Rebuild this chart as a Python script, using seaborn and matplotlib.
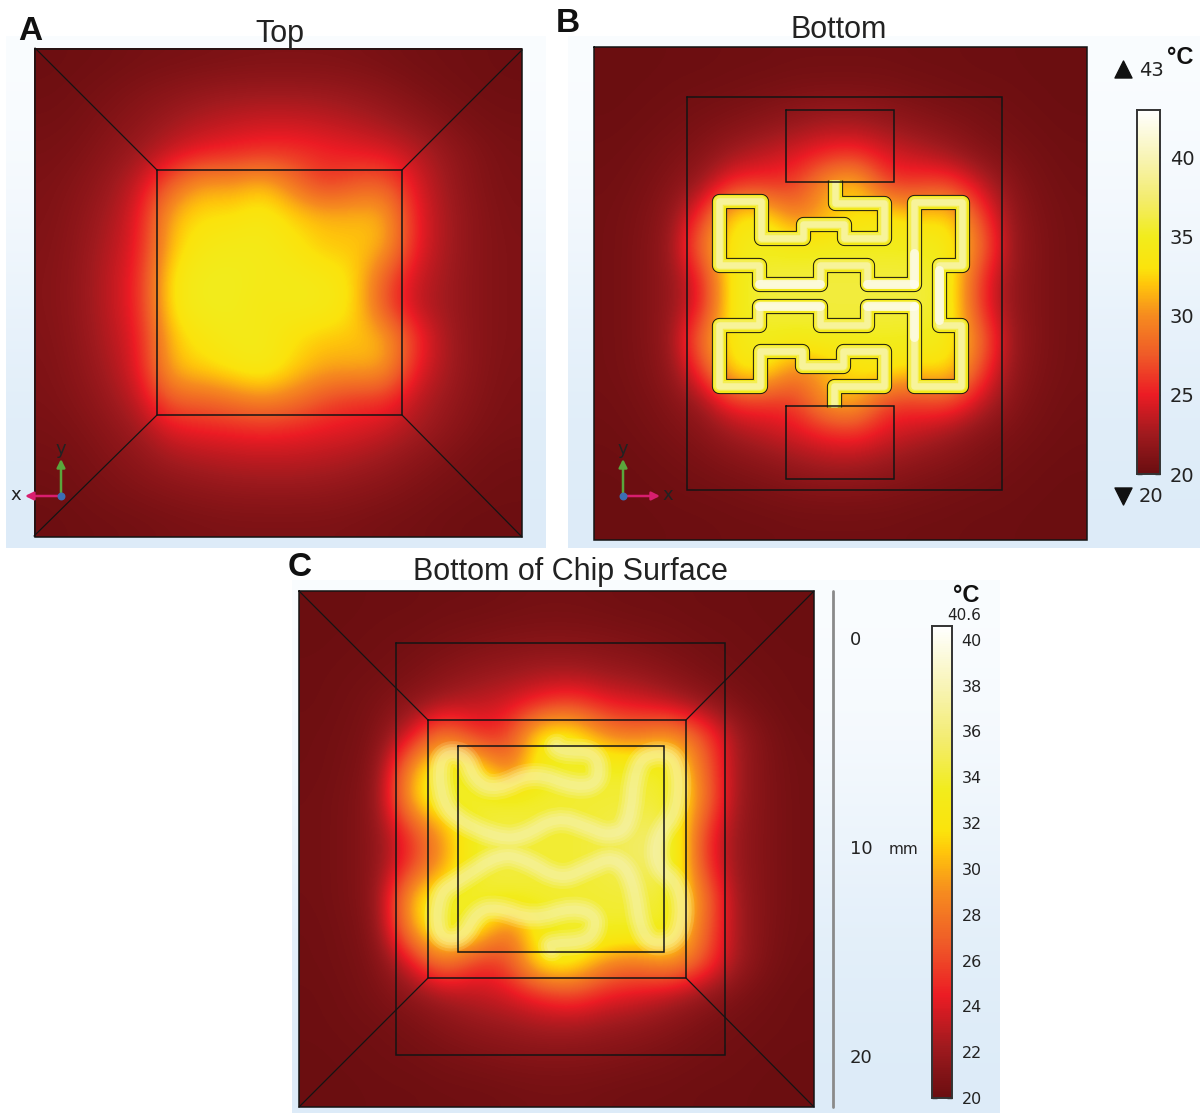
import numpy as np
import matplotlib
matplotlib.use("Agg")
import matplotlib.pyplot as plt
import seaborn as sns
from matplotlib.colors import LinearSegmentedColormap
from matplotlib.path import Path
from matplotlib.patches import PathPatch

# === Temperature readings (deg C), top row first ===
top_temps = [
    [20.2, 20.3, 20.4, 20.6, 20.7, 20.8, 20.9, 21.0, 21.0, 21.0, 20.9, 20.7, 20.5, 20.4, 20.3, 20.2],
    [20.3, 20.5, 20.8, 21.2, 21.6, 22.0, 22.3, 22.4, 22.4, 22.3, 22.0, 21.6, 21.0, 20.6, 20.4, 20.3],
    [20.5, 20.7, 21.2, 21.8, 22.6, 23.3, 23.7, 24.0, 24.0, 23.7, 23.3, 22.7, 22.0, 21.2, 20.7, 20.5],
    [20.7, 21.0, 21.7, 22.6, 24.0, 25.0, 25.5, 26.0, 26.0, 25.5, 25.0, 24.6, 23.5, 22.2, 21.2, 20.7],
    [20.9, 21.4, 22.3, 24.0, 28.0, 31.0, 30.5, 32.0, 29.0, 26.0, 27.5, 28.0, 24.5, 22.5, 21.3, 20.8],
    [21.0, 21.7, 22.8, 24.8, 31.5, 33.0, 33.0, 34.0, 32.5, 31.5, 31.5, 31.5, 25.0, 22.8, 21.5, 20.9],
    [21.1, 21.9, 23.2, 25.0, 32.0, 34.0, 34.5, 34.5, 33.5, 32.0, 32.0, 31.5, 25.0, 22.8, 21.5, 21.0],
    [21.2, 22.0, 23.5, 25.5, 33.5, 35.0, 35.0, 34.5, 34.5, 34.0, 33.0, 27.5, 24.0, 22.6, 21.5, 21.0],
    [21.2, 22.0, 23.5, 25.5, 33.5, 35.0, 35.0, 34.0, 34.5, 34.5, 33.0, 27.0, 23.5, 22.5, 21.5, 21.0],
    [21.1, 21.9, 23.2, 25.0, 32.0, 33.5, 34.5, 34.5, 33.0, 32.0, 32.0, 31.5, 26.0, 22.8, 21.5, 21.0],
    [21.0, 21.7, 22.8, 24.8, 31.5, 32.5, 33.5, 34.5, 32.5, 31.0, 31.0, 31.0, 25.0, 22.8, 21.5, 20.9],
    [20.9, 21.4, 22.3, 23.8, 28.0, 28.0, 29.0, 30.0, 29.0, 27.0, 26.0, 26.0, 23.5, 22.3, 21.3, 20.8],
    [20.7, 21.0, 21.7, 22.6, 24.5, 25.0, 25.2, 25.5, 25.2, 24.8, 24.5, 23.8, 22.8, 21.8, 21.0, 20.7],
    [20.5, 20.7, 21.2, 21.8, 22.6, 23.0, 23.3, 23.4, 23.4, 23.2, 22.8, 22.3, 21.6, 21.0, 20.6, 20.4],
    [20.3, 20.5, 20.8, 21.1, 21.4, 21.7, 21.9, 22.0, 22.0, 21.9, 21.6, 21.3, 20.9, 20.6, 20.4, 20.3],
    [20.2, 20.3, 20.4, 20.5, 20.7, 20.8, 20.9, 20.9, 20.9, 20.9, 20.8, 20.6, 20.5, 20.3, 20.2, 20.2],
]

bottom_temps = [
    [20.1, 20.1, 20.2, 20.2, 20.3, 20.3, 20.4, 20.4, 20.4, 20.4, 20.3, 20.3, 20.2, 20.2, 20.1, 20.1],
    [20.1, 20.2, 20.3, 20.4, 20.5, 20.7, 20.9, 21.0, 21.0, 20.9, 20.7, 20.5, 20.4, 20.3, 20.2, 20.1],
    [20.2, 20.3, 20.5, 20.8, 21.2, 21.6, 22.2, 22.8, 22.8, 22.2, 21.6, 21.2, 20.8, 20.5, 20.3, 20.2],
    [20.3, 20.5, 20.9, 21.4, 22.6, 23.6, 24.4, 25.5, 26.0, 24.4, 23.6, 22.6, 21.4, 20.9, 20.5, 20.3],
    [20.4, 20.7, 21.3, 22.5, 26.0, 26.0, 26.0, 31.0, 33.0, 26.0, 26.5, 27.0, 24.0, 21.5, 20.7, 20.4],
    [20.5, 20.9, 21.8, 26.0, 33.5, 34.0, 29.0, 31.0, 33.0, 34.0, 32.0, 33.5, 27.0, 22.0, 20.9, 20.5],
    [20.5, 21.0, 22.0, 29.0, 34.0, 35.0, 34.5, 35.0, 35.0, 35.0, 35.0, 34.5, 29.0, 22.3, 21.0, 20.5],
    [20.5, 21.0, 22.0, 25.0, 34.5, 36.0, 36.0, 36.0, 36.0, 36.0, 36.0, 35.0, 26.0, 22.0, 21.0, 20.5],
    [20.5, 21.0, 22.0, 25.0, 34.5, 36.0, 36.0, 36.0, 36.0, 36.0, 36.0, 35.0, 26.0, 22.0, 21.0, 20.5],
    [20.5, 21.0, 22.0, 29.0, 34.0, 35.0, 34.5, 35.0, 35.0, 35.0, 35.0, 34.5, 29.0, 22.3, 21.0, 20.5],
    [20.5, 20.9, 21.8, 26.0, 33.5, 34.0, 29.0, 31.0, 33.0, 34.0, 32.0, 33.5, 27.0, 22.0, 20.9, 20.5],
    [20.4, 20.7, 21.3, 22.5, 26.0, 26.0, 26.0, 31.0, 32.0, 26.0, 26.5, 27.0, 24.0, 21.5, 20.7, 20.4],
    [20.3, 20.5, 20.9, 21.4, 22.6, 23.6, 24.4, 25.5, 26.0, 24.4, 23.6, 22.6, 21.4, 20.9, 20.5, 20.3],
    [20.2, 20.3, 20.5, 20.8, 21.2, 21.6, 22.2, 22.8, 22.8, 22.2, 21.6, 21.2, 20.8, 20.5, 20.3, 20.2],
    [20.1, 20.2, 20.3, 20.4, 20.5, 20.7, 20.9, 21.0, 21.0, 20.9, 20.7, 20.5, 20.4, 20.3, 20.2, 20.1],
    [20.1, 20.1, 20.2, 20.2, 20.3, 20.3, 20.4, 20.4, 20.4, 20.4, 20.3, 20.3, 20.2, 20.2, 20.1, 20.1],
]

chip_temps = [
    [20.1, 20.1, 20.2, 20.2, 20.3, 20.3, 20.4, 20.5, 20.5, 20.4, 20.3, 20.3, 20.2, 20.2, 20.1, 20.1],
    [20.1, 20.2, 20.3, 20.4, 20.6, 20.8, 21.0, 21.1, 21.1, 21.0, 20.8, 20.6, 20.4, 20.3, 20.2, 20.1],
    [20.2, 20.3, 20.4, 20.7, 21.2, 21.7, 22.0, 22.4, 22.4, 22.0, 21.7, 21.2, 20.7, 20.4, 20.3, 20.2],
    [20.2, 20.4, 20.8, 21.5, 22.5, 23.2, 23.8, 25.0, 26.0, 24.5, 24.0, 23.0, 21.8, 20.9, 20.4, 20.2],
    [20.3, 20.5, 21.0, 24.0, 29.0, 25.0, 25.5, 33.0, 33.0, 29.0, 28.0, 30.0, 27.0, 22.5, 20.8, 20.3],
    [20.3, 20.6, 21.3, 30.0, 34.0, 33.0, 27.0, 33.0, 34.0, 34.0, 34.0, 34.0, 28.0, 22.5, 20.9, 20.4],
    [20.4, 20.7, 21.6, 31.0, 34.0, 34.0, 34.0, 34.0, 34.0, 34.0, 34.0, 34.0, 29.0, 22.3, 21.0, 20.4],
    [20.4, 20.7, 21.6, 25.5, 29.5, 34.0, 34.5, 34.0, 34.0, 34.5, 35.5, 35.5, 26.0, 22.0, 21.0, 20.4],
    [20.4, 20.7, 21.6, 25.5, 29.5, 34.0, 34.5, 34.0, 34.0, 34.5, 35.5, 35.5, 26.0, 22.0, 21.0, 20.4],
    [20.4, 20.7, 21.6, 31.0, 34.0, 34.0, 34.0, 34.0, 34.0, 34.0, 34.0, 34.0, 29.0, 22.3, 21.0, 20.4],
    [20.3, 20.6, 21.3, 30.0, 34.0, 33.0, 27.0, 33.0, 34.0, 34.0, 34.0, 34.0, 28.0, 22.5, 20.9, 20.4],
    [20.3, 20.5, 21.0, 24.0, 29.0, 25.0, 26.0, 33.0, 33.0, 29.0, 28.0, 30.0, 27.0, 22.5, 20.8, 20.3],
    [20.2, 20.4, 20.8, 21.5, 22.5, 23.2, 23.8, 25.0, 26.0, 24.5, 24.0, 23.0, 21.8, 20.9, 20.4, 20.2],
    [20.2, 20.3, 20.4, 20.7, 21.2, 21.7, 22.0, 22.4, 22.4, 22.0, 21.7, 21.2, 20.7, 20.4, 20.3, 20.2],
    [20.1, 20.2, 20.3, 20.4, 20.6, 20.8, 21.0, 21.1, 21.1, 21.0, 20.8, 20.6, 20.4, 20.3, 20.2, 20.1],
    [20.1, 20.1, 20.2, 20.2, 20.3, 20.3, 20.4, 20.5, 20.5, 20.4, 20.3, 20.3, 20.2, 20.2, 20.1, 20.1],
]

bar_ticks_b = [20, 25, 30, 35, 40]
bar_ticks_c = [20, 22, 24, 26, 28, 30, 32, 34, 36, 38, 40]
scale_labels = ["0", "10", "20"]

# heater centre line for B, traced in 3x crop coordinates
heater_b = [
    (404, 30), (404, 100), (553, 100), (553, 203), (432, 203), (432, 162), (308, 162), (308, 203),
    (183, 203), (183, 93), (58, 93), (58, 284), (176, 284), (176, 342), (359, 342), (359, 284),
    (502, 284), (502, 342), (642, 342), (642, 96), (785, 96), (785, 284), (716, 284), (716, 465),
    (783, 465), (783, 649), (642, 649), (642, 407), (502, 407), (502, 466), (359, 466), (359, 407),
    (176, 407), (176, 466), (58, 466), (58, 647), (180, 647), (180, 544), (306, 544), (306, 587),
    (430, 587), (430, 544), (553, 544), (553, 648), (403, 648), (403, 712),
]
hot_segments_b = [
    [(176, 342), (359, 342)], [(502, 342), (642, 342)], [(642, 342), (642, 250)],
    [(176, 407), (359, 407)], [(502, 407), (642, 407)], [(642, 407), (642, 500)],
    [(716, 300), (716, 450)],
]

# warm band seen through the chip for C, traced in 3x crop coordinates
heater_c = [
    (470, 110), (480, 125), (590, 125), (600, 215), (530, 235), (400, 185), (290, 240), (225, 215),
    (195, 130), (115, 135), (125, 280), (190, 340), (300, 385), (370, 380), (470, 320), (560, 350),
    (625, 378), (690, 350), (705, 160), (770, 125), (835, 150), (835, 300), (770, 380), (770, 470),
    (835, 520), (850, 620), (820, 700), (725, 695), (700, 500), (640, 440), (570, 470), (480, 510),
    (380, 450), (300, 430), (180, 510), (115, 550), (110, 680), (185, 690), (230, 605), (290, 590),
    (400, 630), (520, 590), (595, 620), (570, 695), (450, 700), (455, 715),
]

heat_cmap = LinearSegmentedColormap.from_list("comsol_heat", [
    (0.000, "#6a0e10"), (0.109, "#a01a1e"), (0.217, "#ec1c24"), (0.326, "#ef5a28"),
    (0.435, "#f68b1f"), (0.522, "#ffc60b"), (0.565, "#fbe30c"), (0.652, "#f2ec1c"),
    (0.761, "#f3ec70"), (0.870, "#f8f4b4"), (1.000, "#ffffff"),
])

sns.set_theme(style="white")
plt.rcParams["font.family"] = ["Liberation Sans", "DejaVu Sans"]

W, H = 1200, 1113
fig = plt.figure(figsize=(W / 100, H / 100), dpi=100, facecolor="white")


def px_axes(left, top, right, bottom, zorder):
    return fig.add_axes([left / W, 1 - bottom / H, (right - left) / W, (bottom - top) / H], zorder=zorder)


# pale blue backdrops behind each panel
back = px_axes(0, 0, W, H, 0)
back.set_xlim(0, W)
back.set_ylim(H, 0)
back.axis("off")
ramp = LinearSegmentedColormap.from_list("ramp", ["#fbfdff", "#dcebf8"])
for x0, x1, y0, y1 in [(6, 546, 36, 548), (568, 1200, 36, 548), (292, 1000, 580, 1113)]:
    back.imshow([[0], [1]], extent=(x0, x1, y1, y0), cmap=ramp, aspect="auto", interpolation="bicubic")
back.set_xlim(0, W)
back.set_ylim(H, 0)


def heat_panel(temps, box, vmax, cax=None, ticks=None):
    grid = np.array(temps)
    ax = px_axes(*box, 1)
    sns.heatmap(grid, ax=ax, cmap=heat_cmap, vmin=20, vmax=vmax, xticklabels=False, yticklabels=False,
                cbar=cax is not None, cbar_ax=cax, cbar_kws={"ticks": ticks} if cax is not None else None)
    # same cells, drawn smooth on top of the block mesh
    ax.imshow(grid, extent=(0, grid.shape[1], grid.shape[0], 0), cmap=heat_cmap, vmin=20, vmax=vmax,
              aspect="auto", interpolation="bicubic", interpolation_stage="data", zorder=5)
    ax.set_xlim(0, grid.shape[1])
    ax.set_ylim(grid.shape[0], 0)
    return ax


def style_bar(cax, size):
    cax.tick_params(axis="y", which="major", direction="in", left=True, right=True, length=3.5, width=1,
                    color="#222222", labelsize=size, labelcolor="#222222", pad=7)
    for label in cax.get_yticklabels():
        label.set_family("DejaVu Sans")
    for spine in cax.spines.values():
        spine.set_visible(True)
        spine.set_color("#333333")
        spine.set_linewidth(1.2)


cax_b = px_axes(1137, 110, 1160, 474, 1)
cax_c = px_axes(932, 626, 952, 1098, 1)
heat_panel(top_temps, (34, 48, 522, 537), 43)
heat_panel(bottom_temps, (594, 47, 1087, 540), 43, cax_b, bar_ticks_b)
heat_panel(chip_temps, (299, 591, 814, 1107), 40.6, cax_c, bar_ticks_c)
style_bar(cax_b, 14)
style_bar(cax_c, 11.5)

# outlines, labels and heater traces go on a pixel-sized overlay
over = px_axes(0, 0, W, H, 3)
over.set_xlim(0, W)
over.set_ylim(H, 0)
over.axis("off")
over.patch.set_alpha(0)


def rect(x0, y0, x1, y1, lw=1.1):
    over.plot([x0, x1, x1, x0, x0], [y0, y0, y1, y1, y0], color="#141414", lw=lw, solid_joinstyle="miter")


def diagonals(outer, inner):
    for (xa, ya), (xb, yb) in zip(outer, inner):
        over.plot([xa, xb], [ya, yb], color="#141414", lw=0.9)


def heater_pts(points, ox, oy):
    return [(ox + x / 3, oy + y / 3) for x, y in points]


def stroke(points, width_px, color, alpha=1.0, cap="butt"):
    xs, ys = zip(*points)
    over.plot(xs, ys, color=color, lw=width_px * 0.72, alpha=alpha, solid_joinstyle="round", solid_capstyle=cap)


def smooth_path(points):
    verts = [points[0]]
    codes = [Path.MOVETO]
    for a, b in zip(points[1:-1], points[2:]):
        verts += [a, ((a[0] + b[0]) / 2, (a[1] + b[1]) / 2)]
        codes += [Path.CURVE3, Path.CURVE3]
    verts.append(points[-1])
    codes.append(Path.LINETO)
    return Path(verts, codes)


# panel A
rect(35, 49, 522, 537)
rect(157, 170, 402, 415)
diagonals([(35, 48), (522, 50), (522, 537), (34, 536)], [(157, 170), (402, 170), (402, 415), (157, 415)])

# panel B
rect(594, 47, 1087, 540)
rect(687, 97, 1002, 490)
trace = heater_pts(heater_b, 700, 170)
stroke(trace, 15.2, "#1c1a10")
stroke(trace, 13.2, "#f3e81c")
stroke(trace, 10.0, "#f5f060", alpha=0.8)
stroke(trace, 6.5, "#f8f4a8", alpha=0.85)
for seg in hot_segments_b:
    stroke(heater_pts(seg, 700, 170), 9, "#fffdf0", alpha=0.75, cap="round")
rect(786, 110, 894, 182)
rect(786, 406, 894, 479)

# panel C
path_c = smooth_path(heater_pts(heater_c, 400, 710))
for width_px, alpha in [(26, 0.16), (20, 0.20), (14, 0.22), (8, 0.22)]:
    over.add_patch(PathPatch(path_c, fill=False, edgecolor="#f8f5c8", lw=width_px * 0.72, alpha=alpha,
                             capstyle="round", joinstyle="round"))
rect(299, 591, 814, 1107)
rect(396, 643, 725, 1055)
rect(428, 720, 686, 978)
rect(458, 746, 664, 952)
diagonals([(299, 591), (814, 591), (814, 1107), (299, 1107)], [(428, 720), (686, 720), (686, 978), (428, 978)])

# axis triads
pink, green = "#d81e6e", "#5aa63c"
for x0, y0, x_end, label_x in [(61, 496, 25, 16), (623, 496, 660, 668)]:
    over.annotate("", xy=(x0, y0 - 37), xytext=(x0, y0), arrowprops=dict(arrowstyle="-|>", color=green, lw=1.8, shrinkA=0, shrinkB=0))
    over.annotate("", xy=(x_end, y0), xytext=(x0, y0), arrowprops=dict(arrowstyle="-|>", color=pink, lw=1.8, shrinkA=0, shrinkB=0))
    over.scatter([x0], [y0], s=22, color="#3c6eb4", zorder=5)
    over.text(x0, y0 - 47, "y", family="DejaVu Sans", fontsize=13, color="#222222", ha="center", va="center")
    over.text(label_x, y0 - 1, "x", family="DejaVu Sans", fontsize=13, color="#222222", ha="center", va="center")

# titles and panel letters
for x, y, text in [(280, 34, "Top"), (839, 30, "Bottom"), (570, 572, "Bottom of Chip Surface")]:
    over.text(x, y, text, fontsize=22, color="#222222", ha="center", va="center")
for x, y, text in [(30, 31, "A"), (568, 24, "B"), (300, 568, "C")]:
    over.text(x, y, text, fontsize=24, fontweight="bold", color="#111111", ha="center", va="center")

# legend bits around the colour bars
over.scatter([1123], [69], marker="^", s=150, color="#111111")
over.scatter([1123], [496], marker="v", s=150, color="#111111")
over.text(1151, 70, "43", family="DejaVu Sans", fontsize=14, color="#222222", ha="center", va="center")
over.text(1151, 496, "20", family="DejaVu Sans", fontsize=14, color="#222222", ha="center", va="center")
over.text(1180, 58, "°C", fontsize=17, fontweight="bold", color="#111111", ha="center", va="center")
over.text(966, 596, "°C", fontsize=17, fontweight="bold", color="#111111", ha="center", va="center")
over.text(964, 616, "40.6", family="DejaVu Sans", fontsize=11, color="#222222", ha="center", va="center")

# length scale for panel C
over.plot([833, 833], [591, 1107], color="#8a8a8a", lw=2)
for y, text in zip([640, 849, 1058], scale_labels):
    over.text(850, y, text, family="DejaVu Sans", fontsize=13, color="#222222", ha="left", va="center")
over.text(903, 849, "mm", family="DejaVu Sans", fontsize=11, color="#222222", ha="center", va="center")

fig.savefig("out.png", dpi=100)
